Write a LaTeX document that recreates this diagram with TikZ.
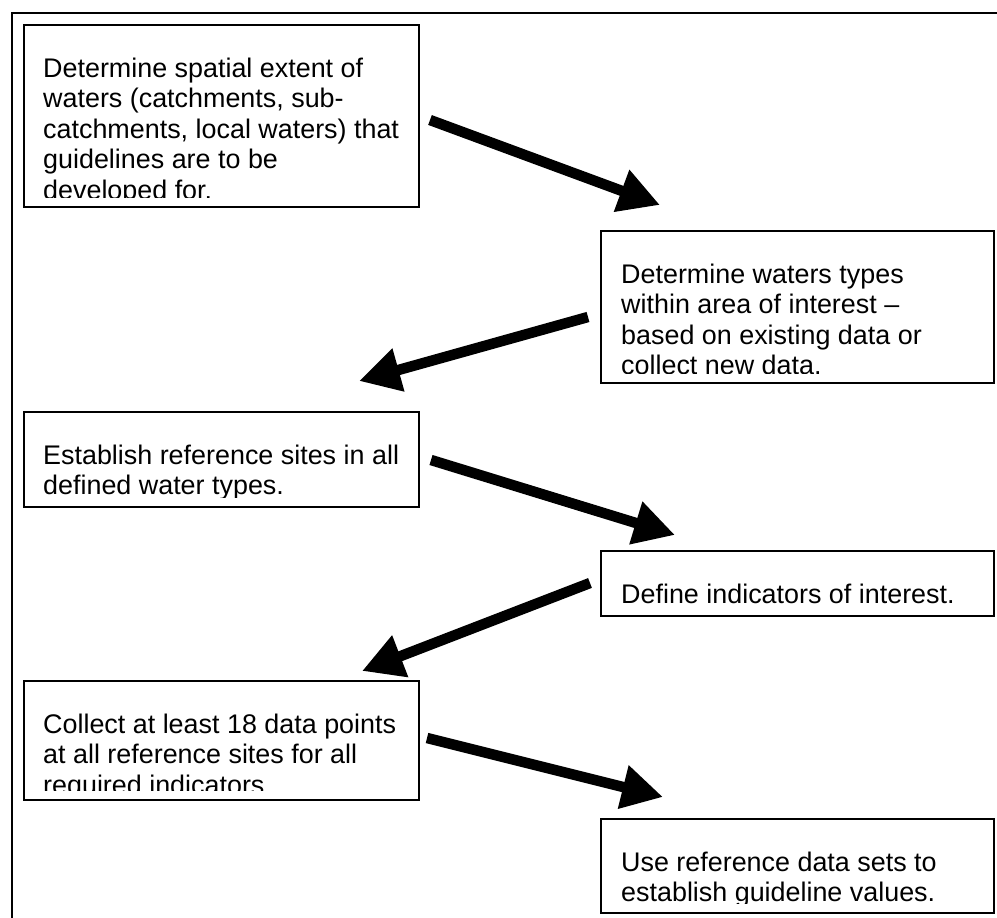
\documentclass[tikz,border=0pt]{standalone}
\usepackage{fontspec}
\setmainfont{Liberation Sans}
\usetikzlibrary{arrows.meta}
\tikzset{
  stepbox/.style={draw=black, line width=1.5pt, fill=white},
  txt/.style={anchor=base west, inner sep=0pt, font=\fontsize{26.9}{30.5}\selectfont},
  flow/.style={line width=10.5pt, -{Triangle[length=41pt,width=42pt]}},
  frame/.style={line width=2pt}
}
\begin{document}
\begin{tikzpicture}[x=1pt,y=-1pt]
\useasboundingbox (0,0) rectangle (997,918);
% outer frame (cut off at right and bottom)
\draw[frame] (12,930) -- (12,13) -- (1010,13);

% boxes
\draw[stepbox] (24,25) rectangle (419,207);
\draw[stepbox] (601,231) rectangle (994,383);
\draw[stepbox] (24,412) rectangle (419,507);
\draw[stepbox] (601,551) rectangle (994,616);
\draw[stepbox] (24,681) rectangle (419,800);
\draw[stepbox] (601,819) rectangle (994,913);

\begin{scope}
\clip (24,25) rectangle (419,197);
\node[txt] (t1a) at (43,77) {Determine spatial extent of};
\node[txt] (t1b) at (43,107.5) {waters (catchments, sub-};
\node[txt] (t1c) at (43,138) {catchments, local waters) that};
\node[txt] (t1d) at (43,168.5) {guidelines are to be};
\node[txt] (t1e) at (43,199) {developed for.};
\end{scope}

\begin{scope}
\clip (601,231) rectangle (994,373);
\node[txt] (t2a) at (621,283) {Determine waters types};
\node[txt] (t2b) at (621,313.5) {within area of interest –};
\node[txt] (t2c) at (621,344) {based on existing data or};
\node[txt] (t2d) at (621,374.5) {collect new data.};
\end{scope}

\begin{scope}
\clip (24,412) rectangle (419,497);
\node[txt] (t3a) at (43,464) {Establish reference sites in all};
\node[txt] (t3b) at (43,494.5) {defined water types.};
\end{scope}

\begin{scope}
\clip (601,551) rectangle (994,606);
\node[txt] (t4a) at (621,603) {Define indicators of interest.};
\end{scope}

\begin{scope}
\clip (24,681) rectangle (419,790);
\node[txt] (t5a) at (43,733) {Collect at least 18 data points};
\node[txt] (t5b) at (43,763.5) {at all reference sites for all};
\node[txt] (t5c) at (43,794) {required indicators.};
\end{scope}

\begin{scope}
\clip (601,819) rectangle (994,903);
\node[txt] (t6a) at (621,871) {Use reference data sets to};
\node[txt] (t6b) at (621,901.5) {establish guideline values.};
\end{scope}

% arrows
\coordinate (a1s) at (430,120);  \coordinate (a1e) at (660,205);
\coordinate (a2s) at (588,317);  \coordinate (a2e) at (359,381);
\coordinate (a3s) at (431,460);  \coordinate (a3e) at (675,535);
\coordinate (a4s) at (590,583);  \coordinate (a4e) at (362,671);
\coordinate (a5s) at (427,738);  \coordinate (a5e) at (663,797);
\draw[flow] (a1s) -- (a1e);
\draw[flow] (a2s) -- (a2e);
\draw[flow] (a3s) -- (a3e);
\draw[flow] (a4s) -- (a4e);
\draw[flow] (a5s) -- (a5e);
\end{tikzpicture}
\end{document}
